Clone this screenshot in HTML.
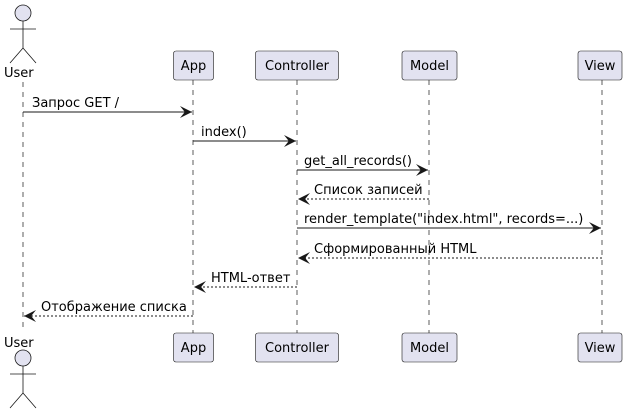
<!DOCTYPE html>
<html><head><meta charset="utf-8"><style>
html,body{margin:0;padding:0;background:#fff;}
svg{display:block;}
text{font-family:"DejaVu Sans","Liberation Sans",sans-serif;font-size:13px;fill:#000;}
</style></head><body>
<svg width="630" height="414" viewBox="0 0 630 414" xmlns="http://www.w3.org/2000/svg">
<defs>
<marker id="ah" viewBox="0 0 10 10" refX="10" refY="5" markerWidth="12" markerHeight="12" markerUnits="userSpaceOnUse" orient="auto">
<path d="M0,0 L10,5 L0,10 L4,5 Z" fill="#181818"/>
</marker>
</defs>
<g stroke="#181818" stroke-width="0.7" stroke-dasharray="5,5">
<line x1="23" y1="82" x2="23" y2="330"/>
<line x1="193" y1="80" x2="193" y2="333"/>
<line x1="297" y1="80" x2="297" y2="333"/>
<line x1="429" y1="80" x2="429" y2="333"/>
<line x1="602" y1="80" x2="602" y2="333"/>
</g>
<!-- actors -->
<g fill="#E2E2F0" stroke="#181818" stroke-width="0.8">
<circle cx="23" cy="13" r="8"/>
<circle cx="23" cy="358" r="8"/>
</g>
<g stroke="#181818" stroke-width="0.8" fill="none">
<path d="M23,21 V48 M10,29 H36 M23,48 L10,63 M23,48 L36,63"/>
<path d="M23,366 V393 M10,374 H36 M23,393 L10,408 M23,393 L36,408"/>
</g>
<text x="4" y="77">User</text>
<text x="4" y="347">User</text>
<!-- boxes -->
<g fill="#E2E2F0" stroke="#181818" stroke-width="0.6">
<rect x="173.5" y="51" width="40" height="29" rx="2.5"/>
<rect x="255.5" y="51" width="83" height="29" rx="2.5"/>
<rect x="402" y="51" width="55" height="29" rx="2.5"/>
<rect x="578" y="51" width="44" height="29" rx="2.5"/>
<rect x="173.5" y="333" width="40" height="29" rx="2.5"/>
<rect x="255.5" y="333" width="83" height="29" rx="2.5"/>
<rect x="402" y="333" width="55" height="29" rx="2.5"/>
<rect x="578" y="333" width="44" height="29" rx="2.5"/>
</g>
<g text-anchor="middle">
<text x="193.5" y="70">App</text><text x="297" y="70">Controller</text><text x="429.5" y="70">Model</text><text x="600" y="70">View</text>
<text x="193.5" y="352">App</text><text x="297" y="352">Controller</text><text x="429.5" y="352">Model</text><text x="600" y="352">View</text>
</g>
<!-- messages -->
<g stroke="#181818" stroke-width="1" marker-end="url(#ah)">
<line x1="23" y1="112" x2="192" y2="112"/>
<line x1="193" y1="141" x2="296" y2="141"/>
<line x1="297" y1="170" x2="428" y2="170"/>
<line x1="429" y1="199" x2="298" y2="199" stroke-dasharray="2,2"/>
<line x1="297" y1="228" x2="601" y2="228"/>
<line x1="602" y1="258" x2="298" y2="258" stroke-dasharray="2,2"/>
<line x1="297" y1="287" x2="194" y2="287" stroke-dasharray="2,2"/>
<line x1="193" y1="316" x2="24" y2="316" stroke-dasharray="2,2"/>
</g>
<text x="32" y="107">Запрос GET /</text>
<text x="201" y="136">index()</text>
<text x="304" y="165">get_all_records()</text>
<text x="314" y="194">Список записей</text>
<text x="304" y="223">render_template("index.html", records=...)</text>
<text x="314" y="253">Сформированный HTML</text>
<text x="211" y="282">HTML-ответ</text>
<text x="41" y="311">Отображение списка</text>
</svg>
</body></html>
